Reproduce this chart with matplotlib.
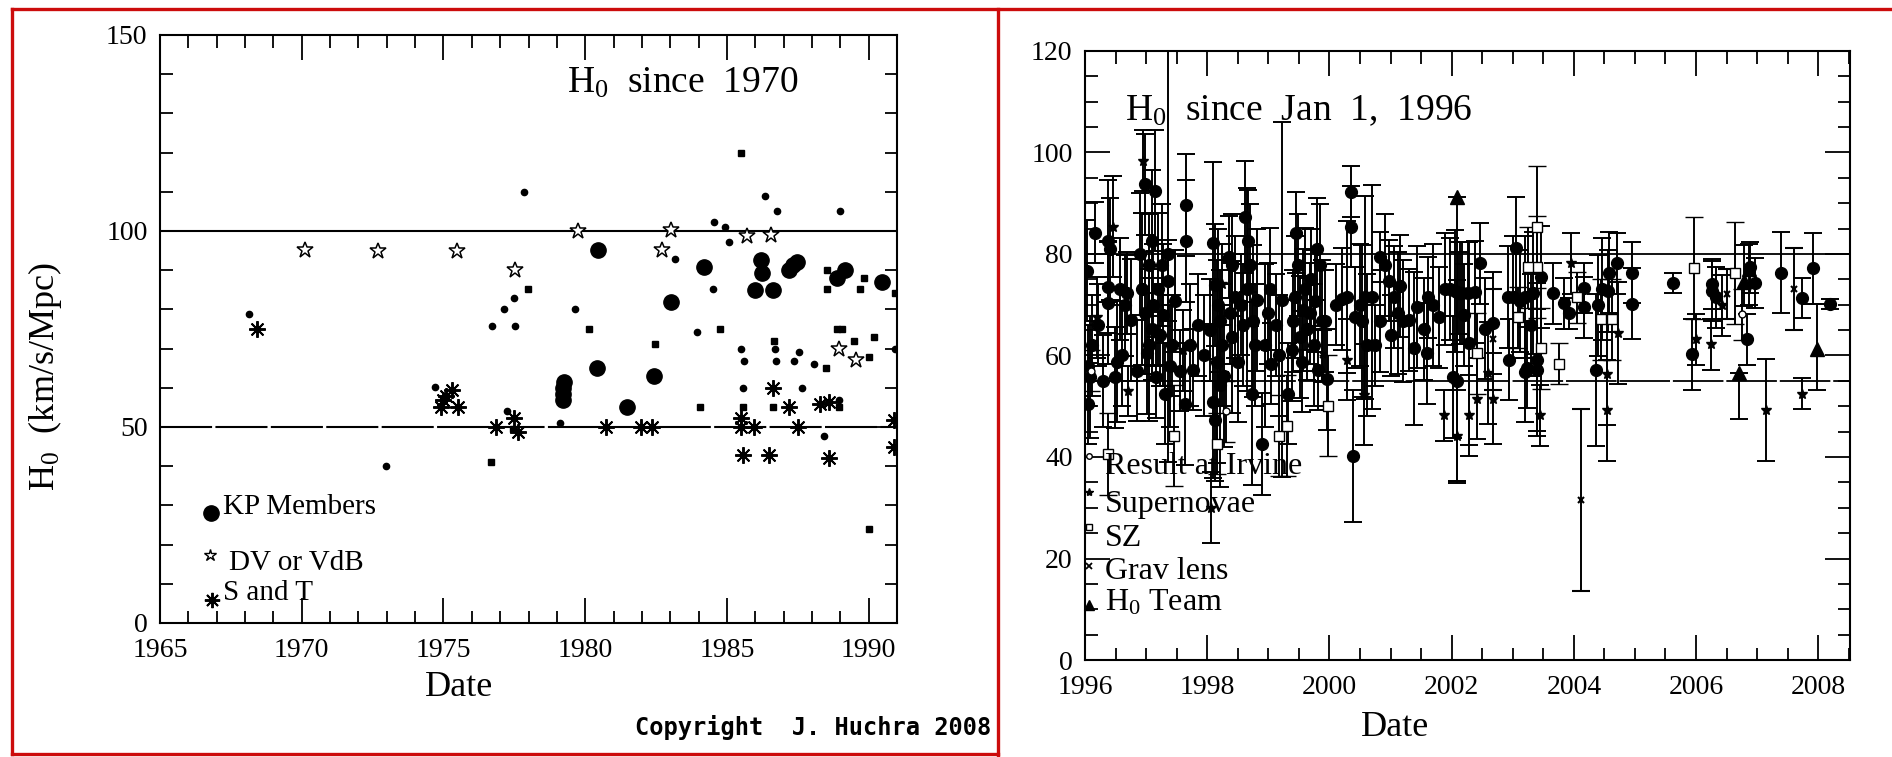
import matplotlib
matplotlib.use('Agg')
import matplotlib.pyplot as plt
from matplotlib.ticker import MultipleLocator
from matplotlib.lines import Line2D

plt.rcParams['font.family'] = 'Liberation Serif'
plt.rcParams['mathtext.fontset'] = 'custom'
plt.rcParams['mathtext.rm'] = 'Liberation Serif'
plt.rcParams['mathtext.it'] = 'Liberation Serif:italic'

# ---------------- left panel: H0 since 1970
kp_x = [1979.2, 1979.2, 1979.2, 1979.25, 1980.4, 1980.46, 1981.49, 1982.43, 1983.04, 1984.19,
        1986.0, 1986.19, 1986.22, 1986.62, 1987.18, 1987.33, 1987.48, 1988.89, 1989.18, 1990.47]
kp_y = [57, 58.5, 60, 61.5, 65, 95.2, 55, 63, 82, 90.9,
        85, 92.6, 89.3, 85, 90.1, 91.2, 92.2, 87.9, 90.1, 87.1]

dv_x = [1970.13, 1972.69, 1975.48, 1977.52, 1979.73, 1982.7, 1983.04, 1985.72, 1986.57, 1988.94, 1989.55]
dv_y = [95.2, 95, 95, 90, 100, 95.2, 100.3, 98.7, 99, 69.9, 67.1]

st_x = [1968.43, 1974.9, 1975.0, 1975.1, 1975.3, 1975.5, 1976.86, 1977.5, 1977.62, 1980.73,
        1981.96, 1982.34, 1985.48, 1985.48, 1985.97, 1985.56, 1986.5, 1986.62, 1987.18, 1987.5,
        1988.3, 1988.6, 1988.59, 1990.88, 1990.88]
st_y = [74.9, 55.2, 57, 58, 59.5, 55.2, 50.1, 52.2, 48.8, 50.1,
        50.1, 50.1, 52.2, 50.1, 50.1, 42.9, 42.9, 60, 55, 50.1,
        55.8, 56.5, 42, 51.8, 45]

dot_x = [1968.14, 1972.98, 1974.71, 1977.23, 1976.7, 1977.15, 1977.5, 1977.51, 1977.84, 1979.11,
         1979.65, 1983.17, 1983.93, 1984.52, 1984.54, 1984.92, 1985.07, 1985.56, 1985.5, 1985.62,
         1986.33, 1986.77, 1986.69, 1986.74, 1987.38, 1987.54, 1987.64, 1988.06, 1988.44, 1988.94,
         1988.98, 1990.94]
dot_y = [78.8, 40.1, 60.1, 54.2, 75.8, 80, 83, 75.8, 109.9, 51.1,
         80, 92.9, 74.2, 85.1, 102.2, 100.9, 97.1, 60, 69.9, 66.9,
         109, 105.2, 69.9, 66.9, 66.9, 69.1, 60, 66.1, 47.8, 56.9,
         105.2, 69.9]

sq_x = [1976.68, 1977.44, 1977.99, 1980.12, 1982.46, 1984.05, 1984.75, 1985.48, 1985.56, 1986.62,
        1986.67, 1988.5, 1988.53, 1988.53, 1988.9, 1989.05, 1988.94, 1989.47, 1989.68, 1989.85,
        1990.0, 1990.18, 1990.94, 1990.0]
sq_y = [41, 49.4, 85.1, 75, 71.2, 55, 75, 120, 55, 55,
        72, 65, 90.1, 85.1, 75, 75, 55, 72, 85.1, 88.1,
        67.9, 72.9, 84.1, 23.9]

left_lines = [100, 50]
left_legend = ['KP Members', 'DV or VdB', 'S and T']

# ---------------- right panel: H0 since Jan 1, 1996
circ_x = [1996.03, 1996.05, 1996.08, 1996.05, 1996.16, 1996.38, 1996.41, 1996.38, 1996.38, 1996.57,
          1996.68, 1996.65, 1996.49, 1996.52, 1996.98, 1997.15, 1997.09, 1997.04, 1996.93, 1996.98,
          1997.09, 1997.01, 1997.17, 1997.31, 1997.39, 1997.47, 1997.36, 1997.26, 1997.20, 1997.36,
          1997.66, 1997.66, 1997.64, 1997.77, 1998.10, 1998.13, 1998.18, 1998.21, 1998.24, 1998.16,
          1998.21, 1998.10, 1998.13, 1998.35, 1998.40, 1998.45, 1998.37, 1998.40, 1998.51, 1998.62,
          1998.67, 1998.70, 1998.65, 1998.75, 1998.78, 1998.73, 1998.89, 1999.00, 1999.03, 1999.05,
          1999.22, 1999.33, 1999.46, 1999.49, 1999.44, 1999.41, 1999.52, 1999.55, 1999.60, 1999.68,
          1999.63, 1999.79, 1999.85, 1999.77, 1999.88, 1999.93, 1999.96, 1999.82, 2000.21, 2000.29,
          2000.36, 2000.35, 2000.39, 2000.42, 2000.53, 2000.50, 2000.58, 2000.69, 2000.83, 2000.91,
          2000.97, 2001.05, 2001.13, 2000.83, 2000.75, 2001.16, 2001.21, 2001.38, 2001.44, 2001.54,
          2001.62, 2001.59, 2001.79, 2001.89, 2001.97, 2002.05, 2002.14, 2002.03, 2002.08, 2002.10,
          2002.17, 2002.27, 2002.38, 2002.46, 2002.28, 2002.54, 2002.67, 2002.94, 2002.92, 2003.01,
          2003.05, 2003.12, 2003.20, 2003.20, 2003.23, 2003.34, 2003.39, 2003.39, 2003.47, 2003.66,
          2003.84, 2003.92, 2004.16, 2004.17, 2004.37, 2004.40, 2004.46, 2004.56, 2004.57, 2004.71,
          2004.95, 2004.95, 2005.63, 2005.93, 2006.26, 2006.26, 2006.32, 2006.83, 2006.89, 2006.97,
          2007.39, 2007.73, 2007.92, 2008.20,
          1996.12, 1996.22, 1996.30, 1996.60, 1996.75, 1996.85, 1996.90, 1997.05, 1997.12, 1997.22,
          1997.28, 1997.42, 1997.55, 1997.72, 1997.85, 1997.95, 1998.05, 1998.28, 1998.55, 1998.58,
          1998.82, 1998.95, 1999.12, 1999.18, 1999.38, 1999.57, 1999.70, 1999.74, 2000.10, 2000.62,
          2001.00, 2001.30, 2001.70, 2002.20, 2003.30]
circ_y = [76.7, 58.0, 55.7, 50.5, 84.2, 82.6, 81.0, 73.5, 70.3, 73.1,
          72.3, 69.9, 55.7, 58.8, 93.7, 92.5, 82.6, 77.8, 73.1, 68.3,
          65.2, 60.4, 55.7, 52.5, 58.0, 70.7, 74.7, 77.8, 73.1, 80.0,
          89.7, 82.6, 50.5, 57.2, 82.2, 73.9, 69.9, 66.8, 62.0, 58.8,
          54.1, 50.9, 47.3, 79.4, 77.8, 71.5, 68.3, 63.6, 58.8, 87.3,
          82.6, 77.8, 73.1, 66.8, 62.0, 52.5, 42.6, 68.3, 73.1, 58.4,
          71.0, 52.5, 84.2, 77.8, 71.5, 66.8, 63.6, 58.8, 73.1, 68.3,
          65.2, 81.0, 77.8, 70.7, 66.8, 66.8, 55.3, 57.2, 71.1, 71.5,
          92.3, 85.4, 40.2, 67.5, 66.8, 69.9, 71.5, 71.5, 79.4, 77.8,
          74.7, 71.5, 68.3, 66.8, 62.0, 73.7, 66.8, 61.4, 69.5, 65.2,
          71.5, 60.4, 67.5, 73.1, 73.1, 72.7, 72.3, 55.7, 54.9, 72.3,
          72.3, 72.3, 72.5, 78.2, 62.4, 65.3, 66.4, 59.2, 71.5, 71.5,
          81.2, 70.7, 71.5, 56.8, 57.6, 72.3, 59.2, 57.2, 75.5, 72.3,
          70.3, 68.3, 73.3, 69.5, 57.2, 69.9, 73.1, 72.7, 76.3, 78.2,
          76.3, 70.2, 74.3, 60.2, 74.1, 72.7, 71.5, 63.2, 77.4, 74.3,
          76.3, 71.3, 77.2, 70.2,
          62, 66, 55, 60, 67, 57, 80, 62, 70, 64,
          68, 62, 57, 62, 66, 60, 65, 56, 70, 66,
          71, 62, 66, 60, 61, 69, 75, 62, 70, 62,
          64, 67, 70, 68, 66]
circ_err = [10, 8, 12, 8, 6, 12, 10, 9, 12, 10,
            8, 10, 10, 12, 10, 12, 14, 10, 15, 12,
            10, 12, 8, 10, 12, 10, 8, 12, 15, 41,
            10, 12, 12, 8, 16, 12, 15, 10, 12, 20,
            20, 15, 12, 8, 10, 12, 10, 15, 12, 11,
            10, 12, 20, 15, 12, 18, 10, 10, 12, 8,
            35, 10, 8, 10, 12, 10, 12, 10, 12, 10,
            10, 10, 12, 10, 12, 10, 10, 8, 10, 15,
            5, 8, 13, 10, 15, 12, 20, 22, 5, 10,
            8, 10, 12, 10, 8, 10, 12, 15, 12, 10,
            8, 10, 10, 11, 10, 12, 10, 12, 20, 8,
            10, 10, 10, 8, 20, 10, 10, 8, 10, 12,
            10, 10, 12, 10, 8, 12, 15, 12, 10, 6,
            5, 3, 5, 6, 15, 10, 10, 8, 8, 6,
            6, 7, 2, 7, 5, 6, 6, 5, 5, 5,
            8, 4, 7, 1,
            10, 8, 9, 10, 12, 10, 12, 15, 12, 10,
            14, 10, 8, 12, 10, 12, 10, 14, 10, 12,
            14, 16, 10, 12, 10, 12, 10, 12, 8, 14,
            8, 10, 12, 10, 10]

sn_x = [1996.95, 1996.19, 1996.46, 2000.56, 2000.29, 2001.87, 2002.08, 2002.28, 2002.41, 2002.60,
        2002.68, 2003.45, 2003.96, 2004.54, 2004.55, 2004.73, 2006.00, 2006.25, 2006.42, 2007.14,
        2007.74, 1998.06, 1996.70, 1997.60, 1998.25]
sn_y = [98.4, 67.5, 85.4, 52.3, 59.2, 48.2, 44.2, 48.2, 51.5, 56.6,
        51.5, 48.2, 78.2, 56.3, 49.2, 64.4, 63.2, 62.2, 69.9, 49.3,
        52.5, 30.0, 53.0, 61.0, 74.0]
sn_err = [6, 8, 10, 10, 8, 5, 9, 8, 8, 10,
          9, 6, 6, 10, 10, 10, 5, 5, 6, 10,
          3, 7, 5, 8, 8]

sz_x = [1996.38, 1997.45, 1998.16, 1999.17, 1999.30, 1999.98, 2002.42, 2003.09, 2003.39, 2003.46,
        2003.39, 2003.25, 2003.75, 2004.05, 2004.44, 2004.62, 2005.97, 2006.63]
sz_y = [40.6, 44.2, 42.6, 44.2, 46.2, 50.1, 60.4, 67.5, 85.3, 61.4,
        77.4, 77.4, 58.4, 71.5, 67.1, 67.1, 77.2, 76.3]
sz_err = [8, 10, 6, 8, 10, 10, 8, 6, 12, 8,
          10, 8, 4, 5, 8, 8, 10, 10]

gl_x = [2004.12, 2002.67, 2006.50, 2007.61, 1999.90]
gl_y = [31.5, 63.2, 72.1, 73.1, 60.0]
gl_err = [18, 10, 5, 8, 5]

irv_x = [2006.76, 1996.10, 1998.30]
irv_y = [68.1, 57.0, 49.0]
irv_err = [5, 4, 6]

h0t_x = [2002.09, 2006.70, 2006.79, 2006.87, 2007.98]
h0t_y = [91.3, 56.5, 74.7, 77.0, 61.2]
h0t_lo = [56, 9, 5, 7, 8]
h0t_hi = [0, 0, 7, 5, 9]

right_lines = [80, 55]
right_legend = ['Result at Irvine', 'Supernovae', 'SZ', 'Grav lens', 'H$_0$ Team']

W, H = 1892, 757
fig = plt.figure(figsize=(W / 100, H / 100), dpi=100)
fig.patch.set_facecolor('white')

def px(x, y):
    return x / W, 1 - y / H

ax1 = fig.add_axes([160 / W, 1 - 623 / H, 737 / W, 588 / H])
ax2 = fig.add_axes([1085 / W, 1 - 660 / H, 765 / W, 609 / H])

for ax in (ax1, ax2):
    for s in ax.spines.values():
        s.set_linewidth(1.5)
    ax.tick_params(which='both', direction='in', top=True, right=True, width=1.3,
                   labelsize=20, colors='k')
    ax.tick_params(which='major', length=18)
    ax.tick_params(which='minor', length=9)
    ax.tick_params(axis='x', pad=11)
    ax.tick_params(axis='y', pad=9)

# left
ax1.set_xlim(1965, 1991)
ax1.set_ylim(0, 150)
ax1.xaxis.set_major_locator(MultipleLocator(5))
ax1.xaxis.set_minor_locator(MultipleLocator(1))
ax1.yaxis.set_major_locator(MultipleLocator(50))
ax1.yaxis.set_minor_locator(MultipleLocator(10))
ax1.axhline(left_lines[0], color='k', lw=1.5)
ax1.axhline(left_lines[1], color='k', lw=1.5, dashes=(25, 1.6))

ax1.plot(dot_x, dot_y, 'o', color='k', ms=4.5, ls='none')
ax1.plot(sq_x, sq_y, 's', color='k', ms=4, ls='none')
ax1.plot(kp_x, kp_y, 'o', color='k', ms=11, ls='none')
ax1.plot(dv_x, dv_y, '*', mfc='white', mec='k', mew=1.1, ms=12, ls='none')
ax1.plot(st_x, st_y, marker=(8, 2, 0), color='k', mew=1.4, ms=12, ls='none')

ax1.plot([0.069], [0.187], 'o', color='k', ms=11, transform=ax1.transAxes, clip_on=False)
ax1.plot([0.068], [0.115], '*', mfc='white', mec='k', mew=1.0, ms=9, transform=ax1.transAxes)
ax1.plot([0.0706], [0.039], marker=(8, 2, 0), color='k', mew=1.4, ms=11, transform=ax1.transAxes)
ax1.text(0.0855, 0.197, left_legend[0], transform=ax1.transAxes, fontsize=21, va='center')
ax1.text(0.093, 0.102, left_legend[1], transform=ax1.transAxes, fontsize=21, va='center')
ax1.text(0.0855, 0.051, left_legend[2], transform=ax1.transAxes, fontsize=21, va='center')
ax1.text(0.552, 0.918, 'H$_0$  since  1970', transform=ax1.transAxes, fontsize=27, va='center')

fig.text(*px(45, 377), 'H$_0$  (km/s/Mpc)', rotation=90, fontsize=26, ha='center', va='center')
fig.text(*px(459, 688), 'Date', fontsize=26, ha='center', va='center')
fig.text(*px(813, 728), 'Copyright  J. Huchra 2008', family='DejaVu Sans Mono',
         weight='bold', fontsize=17, ha='center', va='center')

# right
ax2.set_xlim(1996, 2008.52)
ax2.set_ylim(0, 120)
ax2.xaxis.set_major_locator(MultipleLocator(2))
ax2.xaxis.set_minor_locator(MultipleLocator(0.5))
ax2.yaxis.set_major_locator(MultipleLocator(20))
ax2.yaxis.set_minor_locator(MultipleLocator(5))
ax2.axhline(right_lines[0], color='k', lw=1.3)
ax2.axhline(right_lines[1], color='k', lw=1.3, dashes=(28, 1.6))

eb = dict(ecolor='k', elinewidth=1.4, capsize=6.5, capthick=1.4, ls='none')
ax2.errorbar(circ_x, circ_y, yerr=circ_err, fmt='o', color='k', ms=8.5, **eb)
ax2.errorbar(sn_x, sn_y, yerr=sn_err, fmt='*', color='k', ms=7, **eb)
ax2.errorbar(sz_x, sz_y, yerr=sz_err, fmt='s', mfc='white', mec='k', mew=1.0, ms=6.5, **eb)
ax2.errorbar(gl_x, gl_y, yerr=gl_err, fmt='x', color='k', mew=1.5, ms=5, **eb)
ax2.errorbar(irv_x, irv_y, yerr=irv_err, fmt='o', mfc='white', mec='k', mew=1.0, ms=5, **eb)
ax2.errorbar(h0t_x, h0t_y, yerr=[h0t_lo, h0t_hi], fmt='^', color='k', ms=10, **eb)

leg_mk = [dict(marker='o', mfc='white', mec='k', ms=4), dict(marker='*', color='k', ms=6),
          dict(marker='s', mfc='white', mec='k', ms=4.5), dict(marker='x', color='k', ms=4, mew=1.3),
          dict(marker='^', color='k', ms=7)]
mk_y = [0.335, 0.276, 0.218, 0.155, 0.091]
tx_y = [0.317, 0.256, 0.200, 0.146, 0.094]
for lab, m, my, ty in zip(right_legend, leg_mk, mk_y, tx_y):
    ax2.plot([0.005], [my], ls='none', transform=ax2.transAxes, clip_on=False, **m)
    ax2.text(0.026, ty, lab, transform=ax2.transAxes, fontsize=23, va='center')
ax2.text(0.052, 0.901, 'H$_0$  since  Jan  1,  1996', transform=ax2.transAxes, fontsize=27, va='center')

fig.text(*px(1395, 727), 'Date', fontsize=26, ha='center', va='center')

# red frames
red = '#cc0c0c'
for xs, ys in [([12, 1892], [9, 9]), ([12, 12], [9, 754]), ([12, 998], [754, 754]),
               ([998, 998], [9, 757])]:
    fig.add_artist(Line2D([x / W for x in xs], [1 - y / H for y in ys], color=red, lw=2.4,
                          transform=fig.transFigure))

fig.savefig('out.png', dpi=100, facecolor='white')
